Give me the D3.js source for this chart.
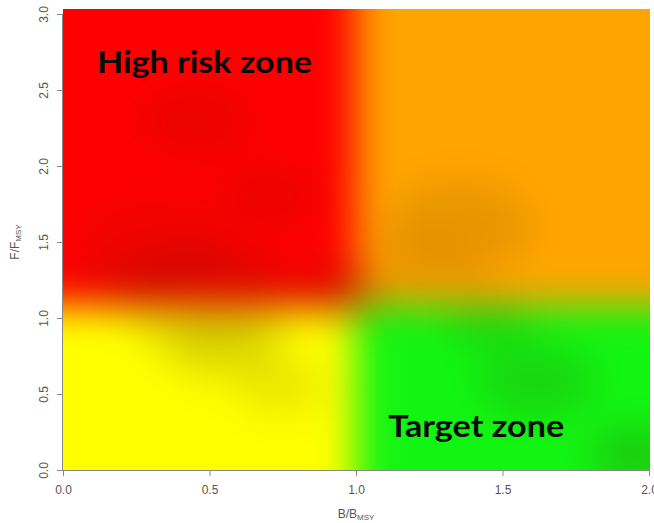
<!DOCTYPE html>
<html>
<head>
<meta charset="utf-8">
<script src="https://cdn.jsdelivr.net/npm/d3@7"></script>
<style>
  body { margin: 0; background: #fff; }
  svg { display: block; }
  .axis text { font-family: "Liberation Sans", Arial, sans-serif; font-size: 12px; fill: #555; }
  .axis path, .axis line { stroke: #888; }
</style>
</head>
<body>
<div id="app"></div>
<script>
// axis ticks
const bTicks = [0, 0.5, 1, 1.5, 2];
const fTicks = [0, 0.5, 1, 1.5, 2, 2.5, 3];

// zone boundaries (B/Bmsy and F/Fmsy) and colours
const zoneB0 = [0, 1, 0, 1];
const zoneB1 = [1, 2, 1, 2];
const zoneF0 = [1.08, 1.08, 0, 0];
const zoneF1 = [3, 3, 1.08, 1.08];
const zoneColor = ['#ff0000', '#ffa500', '#ffff00', '#12f512'];

// darker smudges inside the zones
const shadeB = [0.45, 0.7, 0.3, 0.5, 0.95, 1.35, 1.45, 0.55, 0.75, 1.62, 1.95, 1.2, 0.15];
const shadeF = [2.3, 1.8, 1.5, 1.12, 1.15, 1.6, 0.98, 0.8, 0.55, 0.58, 0.1, 1.3, 1.2];
const shadeR = [0.2, 0.18, 0.25, 0.3, 0.15, 0.25, 0.15, 0.2, 0.15, 0.2, 0.15, 0.2, 0.15];
const shadeOp = [0.1, 0.1, 0.08, 0.16, 0.2, 0.12, 0.12, 0.1, 0.1, 0.14, 0.2, 0.06, 0.08];

const zoneLabels = ['High risk zone', 'Target zone'];
const labelB = [0.116, 1.11];
const labelF = [2.61, 0.215];
const labelWidth = [215, 176];

const w = 654;
const h = 523;
const plotTop = 9;

const xScale = d3.scaleLinear().domain([0, 2]).range([63, 649]);
const yScale = d3.scaleLinear().domain([0, 3]).range([470, 14]);

// paint the zones on a canvas, then blur it
const pad = 80;
const raw = document.createElement('canvas');
raw.width = w + pad * 2;
raw.height = h + pad * 2;
const rc = raw.getContext('2d');
rc.translate(pad, pad);

const ext = (v, lo, hi) => v <= lo ? lo - 0.6 : (v >= hi ? hi + 0.6 : v);

zoneColor.forEach((c, i) => {
  const x0 = xScale(ext(zoneB0[i], 0, 2));
  const x1 = xScale(ext(zoneB1[i], 0, 2));
  const y0 = yScale(ext(zoneF1[i], 0, 3));
  const y1 = yScale(ext(zoneF0[i], 0, 3));
  rc.fillStyle = c;
  rc.fillRect(x0, y0, x1 - x0, y1 - y0);
});

shadeB.forEach((b, i) => {
  rc.globalAlpha = shadeOp[i];
  rc.fillStyle = '#402000';
  rc.beginPath();
  rc.ellipse(xScale(b), yScale(shadeF[i]),
    xScale(shadeR[i]) - xScale(0), yScale(0) - yScale(shadeR[i] * 1.2), 0, 0, Math.PI * 2);
  rc.fill();
});
rc.globalAlpha = 1;

const soft = document.createElement('canvas');
soft.width = raw.width;
soft.height = raw.height;
const sc = soft.getContext('2d');
sc.filter = 'blur(19px)';
sc.drawImage(raw, 0, 0);

const svg = d3.select('#app')
  .append('svg')
  .attr('width', w)
  .attr('height', h);

svg.append('defs')
  .append('clipPath')
  .attr('id', 'plotClip')
  .append('rect')
  .attr('x', xScale(0))
  .attr('y', plotTop)
  .attr('width', xScale(2) - xScale(0) + 1)
  .attr('height', yScale(0) - plotTop);

svg.append('g')
  .attr('clip-path', 'url(#plotClip)')
  .append('image')
  .attr('x', -pad)
  .attr('y', -pad)
  .attr('width', soft.width)
  .attr('height', soft.height)
  .attr('href', soft.toDataURL());

// zone labels
svg.selectAll('text.zoneLabel')
  .data(zoneLabels)
  .enter()
  .append('text')
  .attr('class', 'zoneLabel')
  .attr('x', (d, i) => xScale(labelB[i]))
  .attr('y', (d, i) => yScale(labelF[i]))
  .attr('textLength', (d, i) => labelWidth[i])
  .attr('lengthAdjust', 'spacingAndGlyphs')
  .style('font-family', 'Lato, "Open Sans", sans-serif')
  .style('font-weight', 700)
  .style('font-size', '31px')
  .style('fill', '#0a0a0a')
  .text(d => d);

// axes
const xAxis = d3.axisBottom(xScale).tickValues(bTicks).tickFormat(d3.format('.1f')).tickSize(6).tickPadding(9);
const yAxis = d3.axisLeft(yScale).tickValues(fTicks).tickFormat(d3.format('.1f')).tickSize(6).tickPadding(6);

const gx = svg.append('g')
  .attr('class', 'axis')
  .attr('transform', 'translate(0,' + yScale(0) + ')')
  .call(xAxis);
gx.select('.domain').attr('d', 'M' + xScale(0) + ',0.5H' + xScale(2));

const gy = svg.append('g')
  .attr('class', 'axis')
  .attr('transform', 'translate(' + xScale(0) + ',0)')
  .call(yAxis);
gy.select('.domain').attr('d', 'M-0.5,' + yScale(0) + 'V' + yScale(3));
gy.selectAll('.tick text')
  .attr('x', 0).attr('dy', 0)
  .attr('transform', 'translate(-15,0) rotate(-90)')
  .style('text-anchor', 'middle');

// axis titles
const xt = svg.append('text')
  .attr('x', (xScale(0) + xScale(2)) / 2)
  .attr('y', 518)
  .style('text-anchor', 'middle')
  .style('font-family', '"Liberation Sans", Arial, sans-serif')
  .style('font-size', '12px')
  .style('fill', '#555');
xt.append('tspan').text('B/B');
xt.append('tspan').attr('baseline-shift', '-25%').style('font-size', '8px').text('MSY');

const yt = svg.append('text')
  .attr('transform', 'translate(19,' + ((yScale(0) + yScale(3)) / 2) + ') rotate(-90)')
  .style('text-anchor', 'middle')
  .style('font-family', '"Liberation Sans", Arial, sans-serif')
  .style('font-size', '12px')
  .style('fill', '#555');
yt.append('tspan').text('F/F');
yt.append('tspan').attr('baseline-shift', '-25%').style('font-size', '8px').text('MSY');
</script>
</body>
</html>
